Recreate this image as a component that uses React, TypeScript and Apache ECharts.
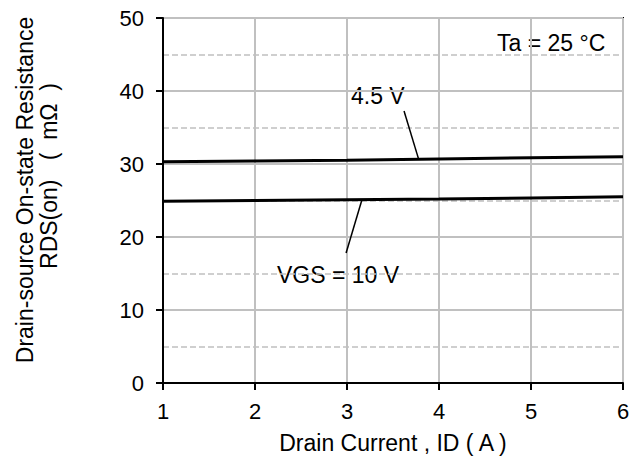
import React, { useEffect, useRef } from "react";
import * as echarts from "echarts";

const currentA = [1, 2, 3, 4, 5, 6];
const rds45 = [30.3, 30.4, 30.5, 30.7, 30.85, 31.0];
const rds10 = [24.9, 25.0, 25.1, 25.2, 25.35, 25.5];
const xTicks = [1, 2, 3, 4, 5, 6];
const yTicks = [0, 10, 20, 30, 40, 50];

const FONT = "Liberation Sans, Arial, sans-serif";
const FS = 22;
const FT = 23;

export default function App() {
  const ref = useRef<HTMLDivElement>(null);
  useEffect(() => {
    if (!ref.current) return;
    const chart = echarts.init(ref.current, undefined, { renderer: "svg" });
    const mk = (vals: number[]) => currentA.map((x, i) => [x, vals[i]]);
    const txt = (text: string) => ({ text, fontSize: FT, fontFamily: FONT, fill: "#000" });
    chart.setOption({
      animation: false,
      backgroundColor: "#fff",
      textStyle: { fontFamily: FONT },
      grid: {
        left: 163,
        right: 21,
        top: 18,
        bottom: 80,
        show: true,
        borderColor: "#000",
        borderWidth: 2,
        backgroundColor: "transparent",
      },
      xAxis: {
        type: "value",
        min: xTicks[0],
        max: xTicks[xTicks.length - 1],
        interval: 1,
        name: "Drain Current , ID ( A )",
        nameLocation: "middle",
        nameGap: 48,
        nameTextStyle: { fontSize: FT, color: "#000", fontFamily: FONT },
        axisLine: { show: true, onZero: false, lineStyle: { color: "#000", width: 2 } },
        axisTick: { show: true, inside: false, length: 7, lineStyle: { color: "#000", width: 2 } },
        axisLabel: { fontSize: FS, color: "#000", margin: 17, fontFamily: FONT },
        splitLine: { show: true, lineStyle: { color: "#c0c0c0", width: 2 } },
      },
      yAxis: {
        type: "value",
        min: yTicks[0],
        max: yTicks[yTicks.length - 1],
        interval: 10,
        axisLine: { show: true, onZero: false, lineStyle: { color: "#000", width: 2 } },
        axisTick: { show: true, inside: false, length: 7, lineStyle: { color: "#000", width: 2 } },
        axisLabel: { fontSize: FS, color: "#000", margin: 19, fontFamily: FONT },
        splitLine: { show: true, lineStyle: { color: "#c0c0c0", width: 2 } },
        minorTick: { show: false, splitNumber: 2 },
        minorSplitLine: { show: true, lineStyle: { color: "#c0c0c0", width: 1.5, type: [6, 3] } },
      },
      series: [
        {
          type: "line",
          data: mk(rds45),
          showSymbol: false,
          z: 5,
          lineStyle: { color: "#000", width: 3 },
          markLine: {
            silent: true,
            symbol: ["none", "none"],
            label: { show: false },
            lineStyle: { color: "#000", width: 1.5, type: "solid" },
            data: [[{ coord: [3.62, 37.26] }, { coord: [3.78, 30.6] }]],
          },
        },
        {
          type: "line",
          data: mk(rds10),
          showSymbol: false,
          z: 5,
          lineStyle: { color: "#000", width: 3 },
          markLine: {
            silent: true,
            symbol: ["none", "none"],
            label: { show: false },
            lineStyle: { color: "#000", width: 1.5, type: "solid" },
            data: [[{ coord: [2.99, 17.8] }, { coord: [3.16, 25.0] }]],
          },
        },
      ],
      graphic: [
        { type: "text", left: 351, top: 84, style: txt("4.5 V") },
        { type: "text", left: 277, top: 263, style: txt("VGS = 10 V") },
        { type: "text", left: 497, top: 31, style: txt("Ta = 25 °C") },
        {
          type: "text",
          x: 25,
          y: 190,
          rotation: Math.PI / 2,
          style: { ...txt("Drain-source On-state Resistance"), align: "center", verticalAlign: "middle" },
        },
        {
          type: "text",
          x: 49,
          y: 176,
          rotation: Math.PI / 2,
          style: { ...txt("RDS(on)   (  mΩ  )"), align: "center", verticalAlign: "middle" },
        },
      ],
    });
    return () => chart.dispose();
  }, []);
  return (
    <div
      ref={ref}
      style={{ position: "fixed", left: 0, top: 0, width: 644, height: 463 }}
    />
  );
}
